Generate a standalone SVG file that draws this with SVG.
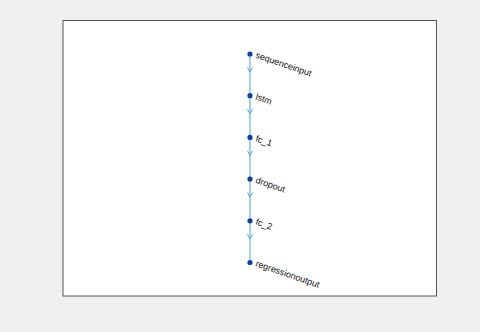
<svg xmlns="http://www.w3.org/2000/svg" width="480" height="332" viewBox="0 0 480 332">
<style>
.e{stroke:#4aa3e6;stroke-width:1;fill:none}
.a{stroke:#4aa3e6;stroke-width:1;fill:none}
.n{fill:#0a3fa8}
.t{font-family:"Liberation Sans",Arial,sans-serif;font-size:9px;fill:#111}
</style>
<rect width="480" height="332" fill="#f0f0f0"/>
<rect x="63" y="20.5" width="373.5" height="275.5" fill="#fff" stroke="#555" stroke-width="1"/>
<g id="connectors">
<line class="e" x1="250" y1="54" x2="250" y2="262.5"/>
<path class="a" d="M247.5,67.5 L250,72 L252.5,67.5"/>
<path class="a" d="M247.5,109.2 L250,113.7 L252.5,109.2"/>
<path class="a" d="M247.5,150.9 L250,155.4 L252.5,150.9"/>
<path class="a" d="M247.5,192.6 L250,197.1 L252.5,192.6"/>
<path class="a" d="M247.5,234.3 L250,238.8 L252.5,234.3"/>
</g>
<g id="sequenceinput"><circle class="n" cx="250" cy="54" r="2.6"/><text class="t" transform="translate(255,57.5) rotate(19)">sequenceinput</text></g>
<g id="lstm"><circle class="n" cx="250" cy="95.7" r="2.6"/><text class="t" transform="translate(255,99.2) rotate(19)">lstm</text></g>
<g id="fc_1"><circle class="n" cx="250" cy="137.4" r="2.6"/><text class="t" transform="translate(255,140.9) rotate(19)">fc_1</text></g>
<g id="dropout"><circle class="n" cx="250" cy="179.1" r="2.6"/><text class="t" transform="translate(255,182.6) rotate(19)">dropout</text></g>
<g id="fc_2"><circle class="n" cx="250" cy="220.8" r="2.6"/><text class="t" transform="translate(255,224.3) rotate(19)">fc_2</text></g>
<g id="regressionoutput"><circle class="n" cx="250" cy="262.5" r="2.6"/><text class="t" transform="translate(255,266) rotate(19)">regressionoutput</text></g>
</svg>
